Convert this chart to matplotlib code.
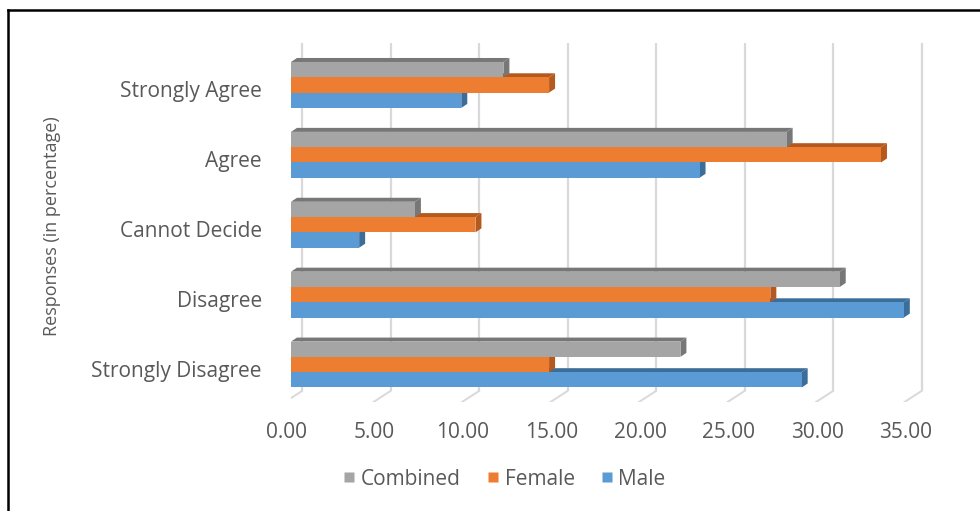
import matplotlib
matplotlib.use("Agg")
import matplotlib.pyplot as plt
from matplotlib.patches import Polygon
from matplotlib.lines import Line2D
from matplotlib.transforms import ScaledTranslation

plt.rcParams['font.family'] = ['Open Sans', 'DejaVu Sans']

# Responses by category (percent), bottom-to-top order
categories = ["Strongly Disagree", "Disagree", "Cannot Decide", "Agree", "Strongly Agree"]
male = [28.85, 34.62, 3.85, 23.08, 9.62]
female = [14.58, 27.08, 10.42, 33.33, 14.58]
combined = [22.00, 31.00, 7.00, 28.00, 12.00]
xticks = [0, 5, 10, 15, 20, 25, 30, 35]
series_names = ["Combined", "Female", "Male"]

TEXT = "#595959"
GRID = "#d9d9d9"
# front, side/top shade for each series
COLORS = {
    "Male": ("#5b9bd5", "#3d6d99"),
    "Female": ("#ed7d31", "#b55a1e"),
    "Combined": ("#a5a5a5", "#777777"),
}

W, H = 980, 511
fig = plt.figure(figsize=(W / 100, H / 100), dpi=100)
ax_l, ax_r, ax_t, ax_b = 291, 930, 43, 402
ax = fig.add_axes([ax_l / W, 1 - ax_b / H, (ax_r - ax_l) / W, (ax_b - ax_t) / H])
ax.set_xlim(0, 36.1)
ax.set_ylim(-0.536, 4.6)
for s in ax.spines.values():
    s.set_visible(False)


def px(dx_px, dy_px):
    """Convert a pixel offset to data units on this axes."""
    x0, y0 = ax.transData.transform((0, 0))
    x1, y1 = ax.transData.inverted().transform((x0 + dx_px, y0 + dy_px))
    return x1, y1


# back wall gridlines and floor edges
back_dx, back_dy = px(11, 11)
front_dx, _ = px(-6, 0)
floor_y = ax.get_ylim()[0]
for t in xticks:
    ax.plot([t + back_dx, t + back_dx], [floor_y + back_dy, ax.get_ylim()[1]],
            color=GRID, lw=1.6, zorder=1, solid_capstyle="butt")
    ax.plot([t + back_dx, t + front_dx], [floor_y + back_dy, floor_y],
            color=GRID, lw=1.4, zorder=1)

# 3D-style bars
bar_h = 0.219
dep_x, dep_y = px(6, 4)
order = [("Male", male), ("Female", female), ("Combined", combined)]
z = 2
for i, cat in enumerate(categories):
    for j, (name, vals) in enumerate(order):
        v = vals[i]
        y0 = i - 1.5 * bar_h + j * bar_h
        y1 = y0 + bar_h
        front, shade = COLORS[name]
        top = Polygon([(0, y1), (v, y1), (v + dep_x, y1 + dep_y), (dep_x, y1 + dep_y)],
                      closed=True, facecolor=shade, edgecolor="none", zorder=z)
        side = Polygon([(v, y0), (v + dep_x, y0 + dep_y), (v + dep_x, y1 + dep_y), (v, y1)],
                       closed=True, facecolor=shade, edgecolor="none", zorder=z)
        face = Polygon([(0, y0), (v, y0), (v, y1), (0, y1)],
                       closed=True, facecolor=front, edgecolor="none", zorder=z + 0.5)
        ax.add_patch(top)
        ax.add_patch(side)
        ax.add_patch(face)
        z += 1

# axis labels
ax.set_xticks(xticks)
ax.set_xticklabels([f"{t:.2f}" for t in xticks], fontsize=15, color=TEXT)
ax.set_yticks(range(len(categories)))
ax.set_yticklabels(categories, fontsize=15, color=TEXT)
ax.tick_params(axis="x", length=0, pad=14.5)
ax.tick_params(axis="y", length=0, pad=21)
for lab in ax.get_xticklabels():
    lab.set_transform(lab.get_transform() + ScaledTranslation(-0.05, 0, fig.dpi_scale_trans))
for lab in ax.get_yticklabels():
    lab.set_transform(lab.get_transform() + ScaledTranslation(0, -0.04, fig.dpi_scale_trans))

fig.text(52 / W, 1 - 226 / H, "Responses (in percentage)", rotation=90,
         ha="center", va="center", fontsize=13, color=TEXT)

# legend
handles = [Line2D([], [], marker="s", linestyle="none", markersize=7.5,
                  markerfacecolor=COLORS[n][0], markeredgecolor="none") for n in series_names]
fig.legend(handles, series_names, loc="center", bbox_to_anchor=(505 / W, 1 - 479 / H),
           ncol=3, frameon=False, fontsize=15, labelcolor=TEXT,
           handlelength=0.5, handletextpad=0.3, columnspacing=1.3)

# outer frame (top and left edges)
fig.add_artist(Line2D([8 / W, 8 / W], [0, 1 - 10 / H], color="black", lw=1.8,
                      transform=fig.transFigure))
fig.add_artist(Line2D([8 / W, 1], [1 - 10 / H, 1 - 10 / H], color="black", lw=1.8,
                      transform=fig.transFigure))

fig.savefig("out.png", dpi=100)
